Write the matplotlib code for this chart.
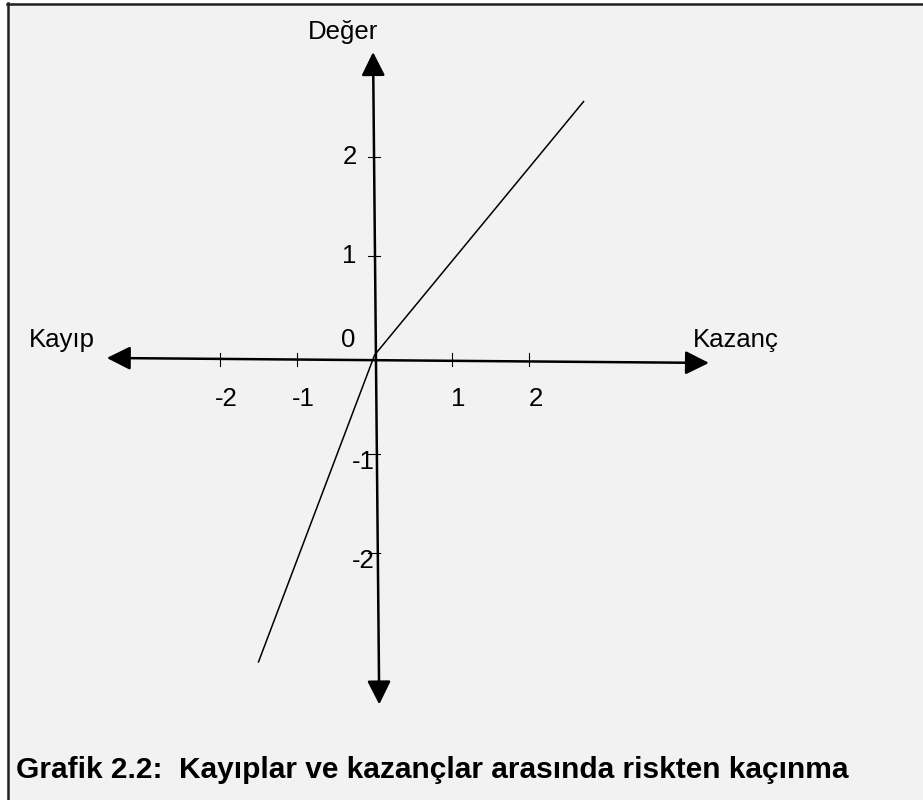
import matplotlib.pyplot as plt
from matplotlib.patches import Rectangle
from matplotlib.lines import Line2D

# value function (outcome -> value), losses steeper than gains
outcome = [-1.5, 0.0, 2.7]
value = [-3.1, 0.0, 2.56]

x_ticks = [-2, -1, 1, 2]
y_ticks = [2, 1, -1, -2]

x_left_label = "Kayıp"
x_right_label = "Kazanç"
y_label = "Değer"
caption = "Grafik 2.2:  Kayıplar ve kazançlar arasında riskten kaçınma"

plt.rcParams['font.family'] = ['Liberation Sans', 'DejaVu Sans']

W, H = 923, 800
fig = plt.figure(figsize=(W / 100, H / 100), dpi=100, facecolor='white')

# gray panel with dark border on top and left only (kept behind the axes)
fig.add_artist(Rectangle((7 / W, 0), 1, 1 - 3 / H, transform=fig.transFigure,
                         facecolor='#f2f2f2', edgecolor='none', zorder=-10))
fig.add_artist(Line2D([7 / W, 1], [1 - 4 / H, 1 - 4 / H], transform=fig.transFigure,
                      color='#222222', lw=1.8, zorder=-9))
fig.add_artist(Line2D([8 / W, 8 / W], [0, 1 - 3 / H], transform=fig.transFigure,
                      color='#222222', lw=1.8, zorder=-9))

ax = fig.add_axes([0, 0, 1, 1])
ax.set_axis_off()
ax.patch.set_visible(False)

# data units -> pixels: x 77.4 px/unit, y 99 px/unit, origin at (374.6, 355)
ux, uy = 77.4, 99.0
ax.set_xlim(-374.6 / ux, (W - 374.6) / ux)
ax.set_ylim((355 - H) / uy, 355 / uy)

arrow = dict(arrowstyle='<|-|>,head_length=0.8,head_width=0.4', color='black',
             lw=1.8, shrinkA=0, shrinkB=0, mutation_scale=18)
# horizontal axis (slightly tilted, as drawn)
ax.annotate('', xy=(4.32, -0.08), xytext=(-3.46, -0.03), arrowprops=arrow)
# vertical axis
ax.annotate('', xy=(-0.02, 3.06), xytext=(0.06, -3.53), arrowprops=arrow)

# tick marks
for t in x_ticks:
    ax.plot([t, t], [0.02, -0.11], color='black', lw=0.8)
for t in y_ticks:
    ax.plot([-0.08, 0.07], [t, t], color='black', lw=0.8)

# tick labels
fs = 18.5
for t in x_ticks:
    ax.text(t + 0.08, -0.52, str(t), ha='center', va='baseline', fontsize=fs)
for t in y_ticks:
    if t > 0:
        ax.text(-0.23, t - 0.07, str(t), ha='right', va='baseline', fontsize=fs)
    else:
        ax.text(0.0, t - 0.15, str(t), ha='right', va='baseline', fontsize=fs)
ax.text(-0.34, 0.08, "0", ha='center', va='baseline', fontsize=fs)

ax.text(-3.61, 0.08, x_left_label, ha='right', va='baseline', fontsize=fs)
ax.text(4.11, 0.08, x_right_label, ha='left', va='baseline', fontsize=fs)
ax.text(-0.41, 3.19, y_label, ha='center', va='baseline', fontsize=fs)

# the value function
ax.plot(outcome, value, color='black', lw=1.1)

fig.text(16 / W, 1 - 778 / H, caption, ha='left', va='baseline',
         fontsize=21.5, fontweight='bold')

fig.savefig('out.png', dpi=100, facecolor='white')
